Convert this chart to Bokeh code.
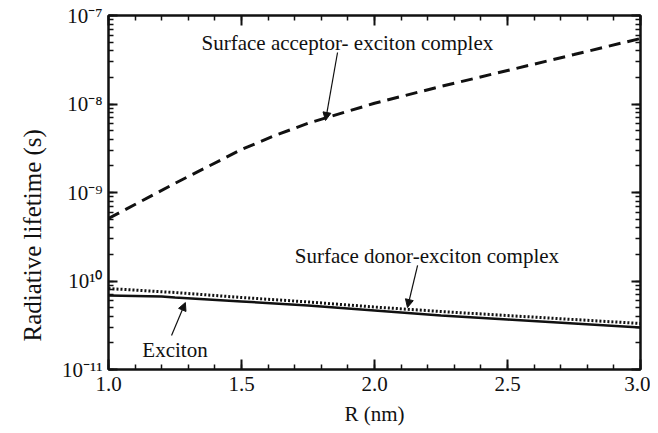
from bokeh.plotting import figure
from bokeh.models import (Range1d, LinearAxis, LogAxis, SingleIntervalTicker, LogTicker,
                          CustomJSTickFormatter, PrintfTickFormatter, Label, Arrow, NormalHead, Title)
from bokeh.embed import file_html
from bokeh.resources import INLINE

# ---- data ----
R_acceptor = [1.0, 1.25, 1.5, 1.625, 1.75, 2.0, 2.25, 2.5, 2.75, 3.0]
tau_acceptor = [5.08e-10, 1.27e-9, 3.06e-9, 4.4e-9, 6.05e-9, 1.02e-8, 1.58e-8, 2.39e-8, 3.62e-8, 5.5e-8]

R_donor = [1.0, 1.25, 1.5, 1.75, 2.0, 2.25, 2.5, 2.75, 3.0]
tau_donor = [8.22e-11, 7.41e-11, 6.51e-11, 5.80e-11, 5.08e-11, 4.52e-11, 4.07e-11, 3.67e-11, 3.31e-11]

R_exciton = [1.0, 1.2, 1.25, 1.5, 1.75, 2.0, 2.25, 2.5, 2.75, 3.0]
tau_exciton = [6.85e-11, 6.68e-11, 6.51e-11, 5.87e-11, 5.28e-11, 4.64e-11, 4.07e-11, 3.67e-11, 3.31e-11, 2.98e-11]

y_exponents = [-11, -10, -9, -8, -7]
y_tick_labels = ["10\u207b\u00b9\u00b9", "10\u00b9\u2070", "10\u207b\u2079", "10\u207b\u2078", "10\u207b\u2077"]

x_label = "R (nm)"
y_label = "Radiative lifetime (s)"
label_acceptor = "Surface acceptor- exciton complex"
label_donor = "Surface donor-exciton complex"
label_exciton = "Exciton"

FONT = "Liberation Serif"
INK = "#111111"

p = figure(width=650, height=433, x_range=Range1d(1.0, 3.0), y_range=Range1d(1e-11, 1e-7),
           y_axis_type="log", output_backend="svg", toolbar_location=None,
           min_border_left=108, min_border_right=10, min_border_top=15, min_border_bottom=64)
p.grid.visible = False
p.outline_line_color = INK
p.outline_line_width = 2

# curves
p.line(R_acceptor, tau_acceptor, line_color=INK, line_width=3, line_dash="12 7")
p.line(R_donor, tau_donor, line_color=INK, line_width=3, line_dash="2 2")
p.line(R_exciton, tau_exciton, line_color=INK, line_width=2.5)

xticker = SingleIntervalTicker(interval=0.5, num_minor_ticks=5)
yticker = LogTicker(num_minor_ticks=10)
yfmt = CustomJSTickFormatter(args=dict(exps=y_exponents, labels=y_tick_labels), code="""
const e = Math.round(Math.log10(tick));
const i = exps.indexOf(e);
return i >= 0 ? labels[i] : '';
""")

def style_axis(ax, major_in, minor_in):
    ax.axis_line_color = INK
    ax.axis_line_width = 2
    ax.major_tick_line_color = INK
    ax.minor_tick_line_color = INK
    ax.major_tick_line_width = 2
    ax.minor_tick_line_width = 1.5
    ax.major_tick_in = major_in
    ax.major_tick_out = 0
    ax.minor_tick_in = minor_in
    ax.minor_tick_out = 0
    ax.major_label_text_font = FONT
    ax.major_label_text_font_size = "21px"
    ax.major_label_text_color = INK

xa = p.xaxis[0]
xa.ticker = xticker
xa.formatter = PrintfTickFormatter(format="%.1f")
style_axis(xa, 10, 5)
xa.major_label_standoff = 7
xa.axis_label = x_label
xa.axis_label_text_font = FONT
xa.axis_label_text_font_size = "21px"
xa.axis_label_text_font_style = "normal"
xa.axis_label_text_color = INK
xa.axis_label_standoff = 8

ya = p.yaxis[0]
ya.ticker = yticker
ya.formatter = yfmt
style_axis(ya, 9, 5)
ya.major_label_standoff = 6

top = LinearAxis(ticker=xticker)
style_axis(top, 10, 5)
top.major_label_text_font_size = "1px"
top.major_label_text_color = None
top.major_label_standoff = 0
p.add_layout(top, "above")

right = LogAxis(ticker=yticker)
style_axis(right, 9, 5)
right.major_label_text_font_size = "1px"
right.major_label_text_color = None
right.major_label_standoff = 0
p.add_layout(right, "right")

# y-axis title, placed on the left side as in the reference
p.add_layout(Title(text=y_label, align="left", offset=28, standoff=26,
                   text_font=FONT, text_font_size="25px", text_font_style="normal",
                   text_color=INK, vertical_align="bottom"), "left")

# annotations
for txt, x, y in [(label_acceptor, 1.898, 4.95e-8), (label_donor, 2.197, 1.94e-10),
                  (label_exciton, 1.25, 1.68e-11)]:
    p.add_layout(Label(x=x, y=y, text=txt, text_font=FONT, text_font_size="21px",
                       text_color=INK, text_align="center", text_baseline="middle"))

for xs, ys, xe, ye in [(1.861, 3.82e-8, 1.816, 6.52e-9),
                       (2.162, 1.50e-10, 2.124, 5.02e-11),
                       (1.237, 2.42e-11, 1.289, 5.71e-11)]:
    p.add_layout(Arrow(x_start=xs, y_start=ys, x_end=xe, y_end=ye, line_color=INK, line_width=1.2,
                       end=NormalHead(size=8, fill_color=INK, line_color=INK, line_width=1)))

open("out.html", "w").write(file_html(p, INLINE))
